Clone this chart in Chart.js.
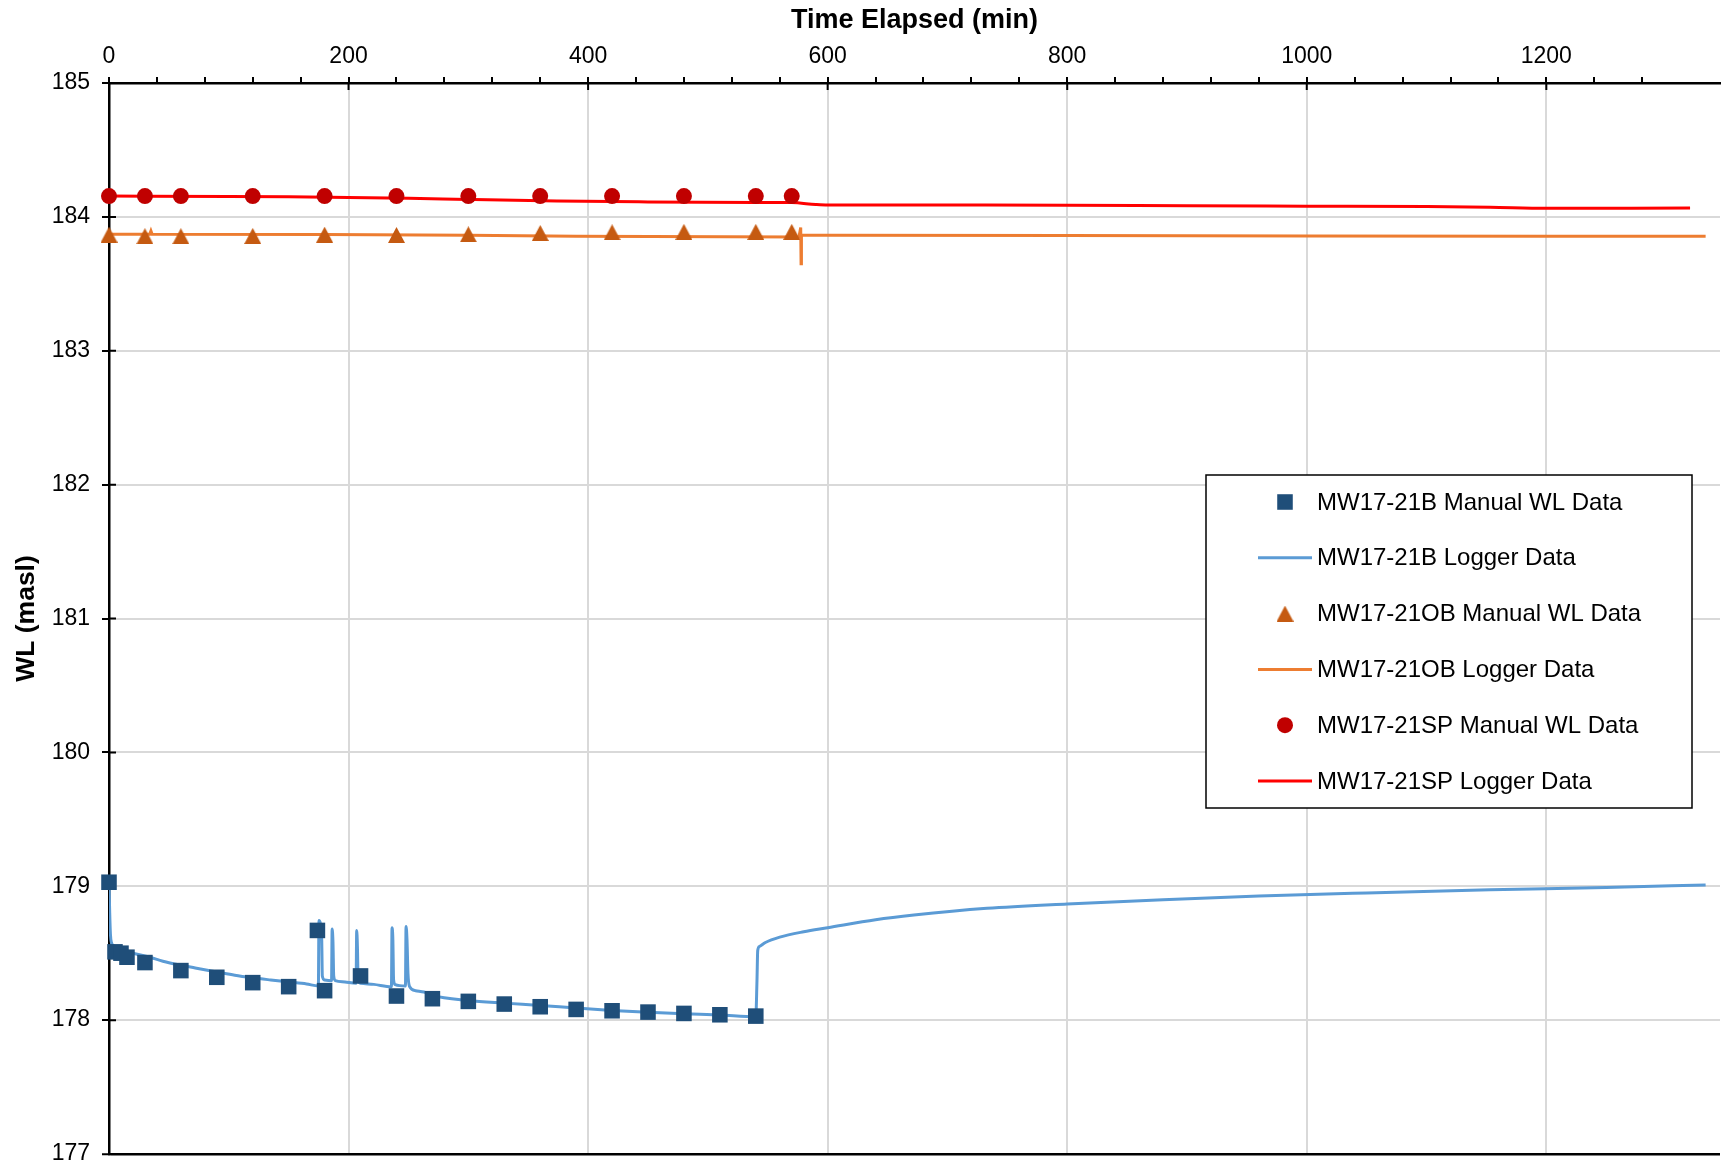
<!DOCTYPE html>
<html>
<head>
<meta charset="utf-8">
<script src="https://cdn.jsdelivr.net/npm/chart.js@4.4.1/dist/chart.umd.min.js"></script>
<style>
body{margin:0;background:#fff;}
canvas{display:block;}
</style>
</head>
<body>
<canvas id="grafico" width="1731" height="1165"></canvas>
<script>
// manual readings (time in min, level in masl)
var tiempoB = [0,5,10,15,30,60,90,120,150,174,180,210,240,270,300,330,360,390,420,450,480,510,540];
var nivelB = [179.03,178.51,178.50,178.47,178.43,178.37,178.32,178.28,178.25,178.67,178.22,178.33,178.18,178.16,178.14,178.12,178.10,178.08,178.07,178.06,178.05,178.04,178.03];
var tiempoManual = [0,30,60,120,180,240,300,360,420,480,540,570];
var nivelOB = [183.867,183.856,183.856,183.858,183.867,183.865,183.87,183.88,183.885,183.888,183.888,183.888];
var nivelSP = [184.155,184.155,184.155,184.155,184.155,184.155,184.155,184.155,184.155,184.155,184.155,184.155];

// logger MW17-21B
var loggerBx = [0,0.6,1.2,2,4,7,12,20,34,45,60,72,90,105,120,135,150,165,174.8,175.3,176.5,177.6,178.1,180,185.8,186.3,187,187.6,189,197,206.3,206.8,207.4,208,210,221,235.8,236.3,237,237.6,239,247.5,248,248.8,249.6,251,256,263,270,300,330,360,390,420,450,480,510,540,541,541.6,543,548,560,580,600,640,672,733,800,880,960,1050,1153,1250,1333];
var loggerBy = [179.03,178.8,178.64,178.58,178.555,178.54,178.52,178.5,178.47,178.44,178.41,178.39,178.36,178.335,178.316,178.3,178.285,178.27,178.255,178.745,178.72,178.6,178.33,178.30,178.295,178.68,178.58,178.33,178.295,178.285,178.275,178.67,178.55,178.3,178.275,178.267,178.25,178.69,178.6,178.3,178.265,178.255,178.70,178.6,178.35,178.25,178.22,178.21,178.185,178.147,178.127,178.11,178.09,178.072,178.058,178.047,178.038,178.025,178.3,178.52,178.55,178.58,178.62,178.66,178.69,178.75,178.785,178.835,178.868,178.9,178.927,178.95,178.973,178.99,179.01];

// logger MW17-21OB
var loggerOBx = [0,34,35,36,180,300,390,576,577.5,577.8,578.1,600,800,1000,1200,1333];
var loggerOBy = [183.87,183.87,183.895,183.87,183.868,183.863,183.855,183.85,183.92,183.65,183.862,183.862,183.86,183.858,183.856,183.855];

// logger MW17-21SP
var loggerSPx = [0,100,150,200,250,300,374,450,540,570,590,600,700,800,900,1000,1100,1153,1200,1320];
var loggerSPy = [184.155,184.153,184.15,184.145,184.14,184.13,184.118,184.112,184.108,184.107,184.092,184.088,184.088,184.087,184.083,184.08,184.077,184.072,184.064,184.066];

var ticksX = [0,200,400,600,800,1000,1200];
var ticksY = [177,178,179,180,181,182,183,184,185];

var fuente = '"Liberation Sans", Arial, sans-serif';
Chart.defaults.font.family = fuente;
Chart.defaults.color = '#000';

function pares(xs, ys){
    var out = [];
    for (var i = 0; i < xs.length; i++) {
        out.push({x: xs[i], y: ys[i]});
    }
    return out;
}

// triangle marker centred on its box
function hacerTriangulo(color){
    var cv = document.createElement('canvas');
    cv.width = 17; cv.height = 16;
    var t = cv.getContext('2d');
    t.fillStyle = color;
    t.beginPath();
    t.moveTo(8.5, 0); t.lineTo(17, 16); t.lineTo(0, 16);
    t.closePath();
    t.fill();
    return cv;
}
var triangulo = hacerTriangulo('#C55A11');

// short ticks that cross into the plot
var marcasCruzadas = {
    id: 'marcasCruzadas',
    beforeDatasetsDraw: function(chart){
        var c = chart.ctx, a = chart.chartArea;
        var sx = chart.scales.x, sy = chart.scales.y;
        c.save();
        c.strokeStyle = '#000';
        c.lineWidth = 2;
        c.beginPath();
        ticksX.forEach(function(v){
            var px = sx.getPixelForValue(v);
            c.moveTo(px, a.top); c.lineTo(px, a.top + 7);
        });
        ticksY.forEach(function(v){
            var py = sy.getPixelForValue(v);
            c.moveTo(a.left, py); c.lineTo(a.left + 7, py);
        });
        c.stroke();
        c.restore();
    }
};

// boxed legend inside the plot area
var leyendaCaja = {
    id: 'leyendaCaja',
    afterDraw: function(chart){
        var c = chart.ctx;
        var bx = 1206, by = 475, bw = 486, bh = 333;
        c.save();
        c.fillStyle = '#fff';
        c.fillRect(bx, by, bw, bh);
        c.strokeStyle = '#000';
        c.lineWidth = 1.5;
        c.strokeRect(bx, by, bw, bh);
        c.font = '24px ' + fuente;
        c.textBaseline = 'middle';
        c.textAlign = 'left';
        chart.data.datasets.forEach(function(ds, i){
            var yy = by + 27 + i * 55.8;
            if (ds.showLine) {
                c.strokeStyle = ds.borderColor;
                c.lineWidth = ds.borderWidth;
                c.beginPath();
                c.moveTo(1258, yy); c.lineTo(1312, yy);
                c.stroke();
            } else {
                c.fillStyle = ds.backgroundColor;
                c.strokeStyle = ds.borderColor;
                Chart.helpers.drawPoint(c, {pointStyle: ds.pointStyle, radius: ds.pointRadius, rotation: 0, borderWidth: 0}, 1285, yy);
            }
            c.fillStyle = '#000';
            c.fillText(ds.label, 1317, yy + 1);
        });
        c.restore();
    }
};

var ctx = document.getElementById('grafico').getContext('2d');
var chart = new Chart(ctx, {
    type: 'scatter',
    data: {
        datasets: [
            {label: 'MW17-21B Manual WL Data', data: pares(tiempoB, nivelB), pointStyle: 'rect', pointRadius: 11, backgroundColor: '#1F4E79', borderColor: '#1F4E79', borderWidth: 0, clip: false, order: 0},
            {label: 'MW17-21B Logger Data', data: pares(loggerBx, loggerBy), showLine: true, pointRadius: 0, borderColor: '#5B9BD5', backgroundColor: '#5B9BD5', borderWidth: 3, cubicInterpolationMode: 'monotone', order: 1},
            {label: 'MW17-21OB Manual WL Data', data: pares(tiempoManual, nivelOB), pointStyle: triangulo, pointRadius: 8, backgroundColor: '#C55A11', borderColor: '#C55A11', borderWidth: 0, clip: false, order: 0},
            {label: 'MW17-21OB Logger Data', data: pares(loggerOBx, loggerOBy), showLine: true, pointRadius: 0, borderColor: '#ED7D31', backgroundColor: '#ED7D31', borderWidth: 3, order: 1},
            {label: 'MW17-21SP Manual WL Data', data: pares(tiempoManual, nivelSP), pointStyle: 'circle', pointRadius: 8, backgroundColor: '#C00000', borderColor: '#C00000', borderWidth: 0, clip: false, order: 0},
            {label: 'MW17-21SP Logger Data', data: pares(loggerSPx, loggerSPy), showLine: true, pointRadius: 0, borderColor: '#FF0000', backgroundColor: '#FF0000', borderWidth: 3, cubicInterpolationMode: 'monotone', order: 1}
        ]
    },
    options: {
        responsive: false,
        animation: false,
        events: [],
        layout: {padding: {left: 0, right: 0, top: 0, bottom: 11}},
        plugins: {legend: {display: false}, tooltip: {enabled: false}},
        scales: {
            x: {
                type: 'linear', position: 'top', min: 0, max: 1345,
                afterBuildTicks: function(s){
                    s.ticks = s.ticks.filter(function(t){ return t.value % 40 == 0; });
                },
                afterFit: function(s){ s.height = 83; s.paddingLeft = 0; s.paddingRight = 0; },
                ticks: {stepSize: 40, autoSkip: false, maxRotation: 0, padding: 7, font: {size: 23},
                    callback: function(v){ return ticksX.indexOf(v) >= 0 ? v : ''; }},
                grid: {
                    color: function(c){ return (c.tick && c.tick.value % 200 == 0 && c.tick.value > 0) ? '#d9d9d9' : 'rgba(0,0,0,0)'; },
                    lineWidth: 2, tickColor: '#000', tickLength: 6, tickWidth: 2
                },
                border: {color: '#000', width: 2.5},
                title: {display: true, text: 'Time Elapsed (min)', font: {size: 27, weight: 'bold'}, padding: {top: 4, bottom: 0}}
            },
            y: {
                min: 177, max: 185,
                afterFit: function(s){ s.width = 109; s.paddingTop = 0; s.paddingBottom = 0; },
                ticks: {stepSize: 1, padding: 12, font: {size: 23}},
                grid: {
                    color: function(c){ return (c.tick && c.tick.value == 177) ? '#000' : '#d9d9d9'; },
                    lineWidth: function(c){ return (c.tick && c.tick.value == 177) ? 2.5 : 2; },
                    tickColor: '#000', tickLength: 7, tickWidth: 2
                },
                border: {color: '#000', width: 2.5},
                title: {display: true, text: 'WL (masl)', font: {size: 26.5, weight: 'bold'}, padding: {top: 11, bottom: 0}}
            }
        }
    },
    plugins: [marcasCruzadas, leyendaCaja]
});
</script>
</body>
</html>
